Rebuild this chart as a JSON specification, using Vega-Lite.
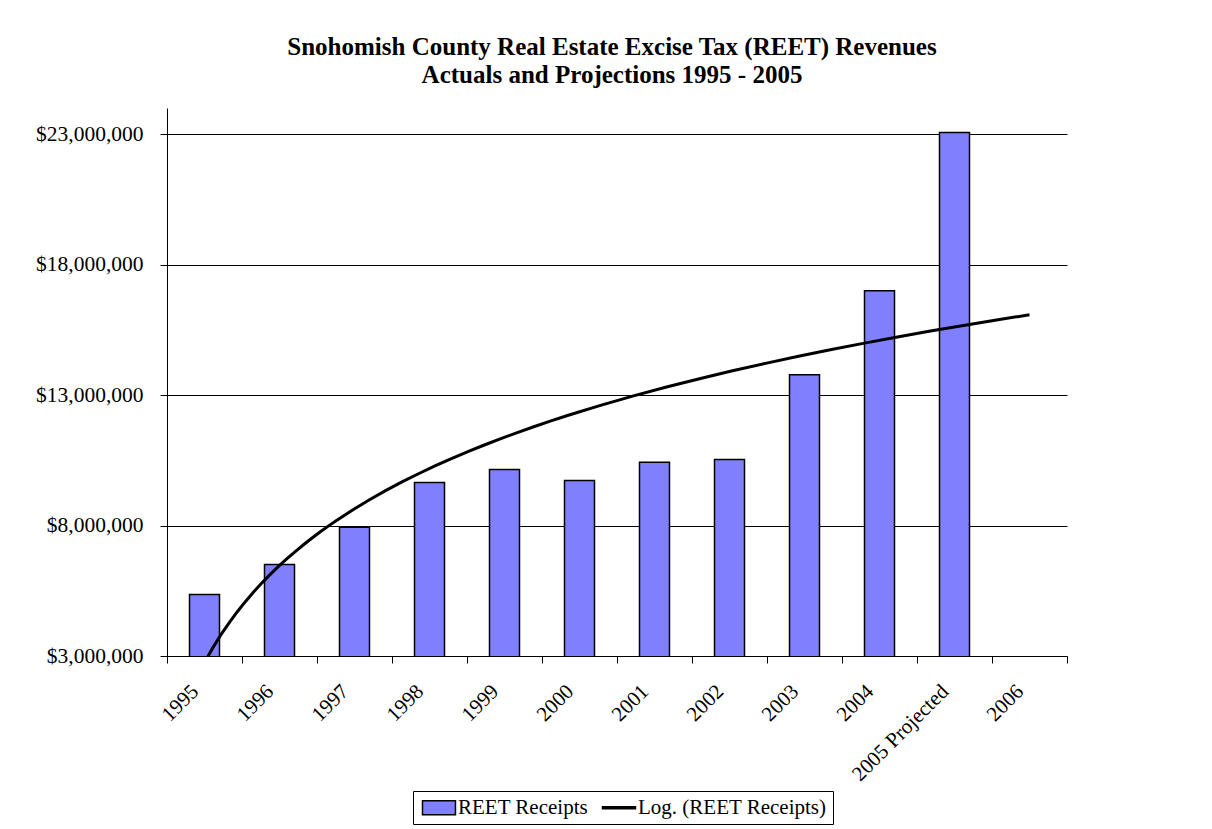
{
  "$schema": "https://vega.github.io/schema/vega-lite/v6.json",
  "width": 900,
  "height": 548,
  "autosize": {"type": "none"},
  "padding": {"left": 167, "top": 108, "right": 145, "bottom": 173},
  "background": "white",
  "config": {"font": "Liberation Serif", "view": {"stroke": null}, "legend": {"symbolOpacity": 1}},
  "title": {
    "text": ["Snohomish County Real Estate Excise Tax (REET) Revenues", "Actuals and Projections 1995 - 2005"],
    "fontSize": 25,
    "fontWeight": "bold",
    "color": "black",
    "anchor": "middle",
    "frame": "group",
    "lineHeight": 28,
    "offset": 20,
    "dx": -5
  },
  "data": {
    "values": [
      {"year": "1995", "idx": 1, "value": 5360000, "series": "REET Receipts"},
      {"year": "1996", "idx": 2, "value": 6510000, "series": "REET Receipts"},
      {"year": "1997", "idx": 3, "value": 7930000, "series": "REET Receipts"},
      {"year": "1998", "idx": 4, "value": 9650000, "series": "REET Receipts"},
      {"year": "1999", "idx": 5, "value": 10150000, "series": "REET Receipts"},
      {"year": "2000", "idx": 6, "value": 9730000, "series": "REET Receipts"},
      {"year": "2001", "idx": 7, "value": 10420000, "series": "REET Receipts"},
      {"year": "2002", "idx": 8, "value": 10530000, "series": "REET Receipts"},
      {"year": "2003", "idx": 9, "value": 13780000, "series": "REET Receipts"},
      {"year": "2004", "idx": 10, "value": 17000000, "series": "REET Receipts"},
      {"year": "2005 Projected", "idx": 11, "value": 23060000, "series": "REET Receipts"}
    ]
  },
  "layer": [
    {
      "mark": {"type": "bar", "stroke": "black", "strokeWidth": 1.5, "clip": true},
      "encoding": {
        "x": {
          "field": "year",
          "type": "nominal",
          "scale": {
            "domain": ["1995", "1996", "1997", "1998", "1999", "2000", "2001", "2002", "2003", "2004", "2005 Projected", "2006"],
            "paddingInner": 0.6,
            "paddingOuter": 0.3
          },
          "axis": {
            "orient": "bottom",
            "title": null,
            "ticks": false,
            "domain": false,
            "grid": false,
            "labelAngle": -45,
            "labelAlign": "right",
            "labelBaseline": "middle",
            "labelPadding": 32,
            "labelOffset": -9,
            "labelFontSize": 21,
            "labelColor": "black",
            "labelOverlap": false,
            "labelLimit": 300
          }
        },
        "y": {
          "field": "value",
          "type": "quantitative",
          "scale": {"domain": [3000000, 24000000], "nice": false, "zero": false},
          "axis": {
            "title": null,
            "values": [3000000, 8000000, 13000000, 18000000, 23000000],
            "format": "$,.0f",
            "labelFontSize": 21.5,
            "labelColor": "black",
            "tickSize": 7,
            "tickColor": "black",
            "labelPadding": 17,
            "domainColor": "black",
            "grid": true,
            "gridColor": "black",
            "gridWidth": 1
          }
        },
        "color": {
          "field": "series",
          "type": "nominal",
          "scale": {"domain": ["REET Receipts", "Log. (REET Receipts)"], "range": ["#8080FF", "#000000"]},
          "legend": {
            "title": null,
            "orient": "none",
            "legendX": 246,
            "legendY": 683,
            "direction": "horizontal",
            "strokeColor": "black",
            "padding": 6,
            "labelFontSize": 21,
            "labelColor": "black",
            "labelLimit": 300,
            "labelOffset": 18,
            "columnPadding": 10,
            "symbolSize": 196,
            "symbolOpacity": 1
          }
        }
      }
    },
    {
      "transform": [{"regression": "value", "on": "idx", "method": "log", "extent": [1, 12]}],
      "mark": {"type": "line", "color": "black", "strokeWidth": 3, "clip": true},
      "encoding": {
        "x": {
          "field": "idx",
          "type": "quantitative",
          "scale": {"domain": [0.5, 12.5], "nice": false, "zero": false},
          "axis": {
            "orient": "bottom",
            "title": null,
            "values": [0.5, 1.5, 2.5, 3.5, 4.5, 5.5, 6.5, 7.5, 8.5, 9.5, 10.5, 11.5, 12.5],
            "labels": false,
            "tickSize": 7,
            "tickColor": "black",
            "domainColor": "black",
            "grid": false
          }
        },
        "y": {
          "field": "value",
          "type": "quantitative",
          "axis": {
            "title": null,
            "values": [3000000, 8000000, 13000000, 18000000, 23000000],
            "format": "$,.0f",
            "labelFontSize": 21.5,
            "labelColor": "black",
            "tickSize": 7,
            "tickColor": "black",
            "labelPadding": 17,
            "domainColor": "black",
            "grid": true,
            "gridColor": "black",
            "gridWidth": 1
          }
        }
      }
    },
    {
      "data": {"values": [{"series": "REET Receipts"}, {"series": "Log. (REET Receipts)"}]},
      "mark": {"type": "point", "filled": true, "opacity": 0, "stroke": "black", "strokeWidth": 1.5},
      "encoding": {
        "color": {"field": "series", "type": "nominal"},
        "shape": {
          "field": "series",
          "type": "nominal",
          "scale": {
            "domain": ["REET Receipts", "Log. (REET Receipts)"],
            "range": ["M-1,-1H3.71V1H-1Z", "M-1,-0.15H3.71V0.15H-1Z"]
          },
          "legend": {
            "title": null,
            "orient": "none",
            "legendX": 246,
            "legendY": 683,
            "direction": "horizontal",
            "strokeColor": "black",
            "padding": 6,
            "labelFontSize": 21,
            "labelColor": "black",
            "labelLimit": 300,
            "labelOffset": 18,
            "columnPadding": 10,
            "symbolSize": 196,
            "symbolOpacity": 1
          }
        }
      }
    }
  ],
  "resolve": {"scale": {"x": "independent"}}
}
